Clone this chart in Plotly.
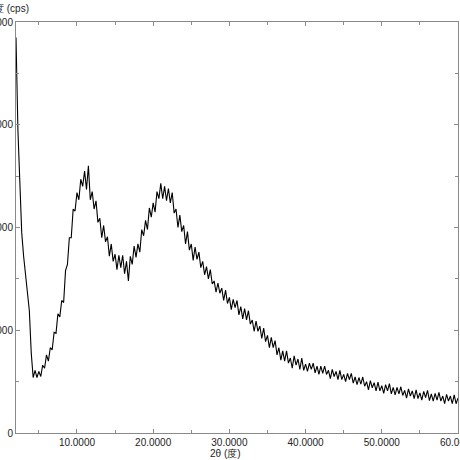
import plotly.graph_objects as go

# =====================================================
# DATA  (scan 2.00 - 60.00 deg, step 0.25 deg)
# =====================================================

SCAN_START = 2.0
SCAN_STEP = 0.25

intensity = [
    3850, 2950, 2450, 1950, 1720, 1540, 1370, 1190, 780, 540,
    610, 540, 600, 550, 660, 630, 760, 700, 830, 810,
    980, 970, 1160, 1130, 1290, 1270, 1580, 1640, 1900, 1900,
    2180, 2160, 2340, 2270, 2470, 2400, 2550, 2370, 2600, 2270,
    2350, 2180, 2260, 2050, 2090, 1900, 2020, 1860, 1910, 1720,
    1840, 1670, 1740, 1590, 1730, 1610, 1730, 1550, 1670, 1480,
    1720, 1640, 1820, 1710, 1840, 1760, 1980, 1920, 2070, 1980,
    2190, 2100, 2240, 2150, 2350, 2280, 2430, 2280, 2400, 2260,
    2380, 2240, 2340, 2140, 2180, 2000, 2120, 1960, 2020, 1840,
    1960, 1780, 1840, 1680, 1810, 1690, 1760, 1610, 1670, 1540,
    1620, 1500, 1590, 1450, 1480, 1370, 1460, 1360, 1410, 1290,
    1390, 1260, 1320, 1200, 1300, 1220, 1290, 1150, 1230, 1110,
    1210, 1100, 1190, 1060, 1100, 990, 1090, 990, 1040, 920,
    1020, 890, 950, 830, 930, 830, 900, 760, 830, 710,
    800, 700, 800, 680, 730, 630, 750, 660, 720, 620,
    730, 610, 670, 600, 680, 620, 680, 585, 650, 570,
    650, 580, 650, 570, 610, 530, 620, 550, 600, 520,
    610, 520, 570, 500, 580, 520, 580, 485, 545, 470,
    540, 475, 545, 455, 500, 420, 510, 440, 490, 410,
    495, 410, 460, 385, 470, 410, 480, 380, 445, 370,
    445, 380, 450, 365, 415, 340, 430, 360, 410, 335,
    420, 335, 390, 320, 405, 345, 415, 315, 380, 310,
    385, 320, 395, 310, 360, 285, 375, 310, 360, 285,
    370, 285, 340,
]

two_theta = [SCAN_START + SCAN_STEP * i for i in range(len(intensity))]

x_ticks = [10, 20, 30, 40, 50, 60]
y_ticks = [0, 1000, 2000, 3000, 4000]

AXIS_COLOR = "#8a8a8a"
TEXT_COLOR = "#222222"
FONT = "Liberation Sans, Arial, sans-serif"

# =====================================================
# FIGURE
# =====================================================

fig = go.Figure(
    go.Scatter(
        x=two_theta,
        y=intensity,
        mode="lines",
        line=dict(color="black", width=1.1),
        showlegend=False
    )
)

axis_common = dict(
    showline=True,
    linecolor=AXIS_COLOR,
    linewidth=1,
    mirror="allticks",
    ticks="inside",
    tickcolor=AXIS_COLOR,
    ticklen=4,
    showgrid=False,
    zeroline=False,
    automargin=False,
    ticklabeloverflow="allow",
    tickfont=dict(family=FONT, size=10, color=TEXT_COLOR),
)

fig.update_xaxes(
    range=[2, 60],
    tickvals=x_ticks,
    tickformat=".4f",
    minor=dict(ticks="inside", ticklen=3, tickcolor=AXIS_COLOR, dtick=5, tick0=5),
    **axis_common
)

fig.update_yaxes(
    range=[0, 4000],
    tickvals=y_ticks,
    minor=dict(ticks="inside", ticklen=3, tickcolor=AXIS_COLOR, dtick=500, tick0=0),
    **axis_common
)

fig.add_annotation(
    text="2θ (度)",
    xref="paper", yref="paper",
    x=0.475, y=-0.05,
    xanchor="center", yanchor="middle",
    showarrow=False,
    font=dict(family=FONT, size=10, color=TEXT_COLOR)
)

fig.add_annotation(
    text="强度 (cps)",
    xref="paper", yref="paper",
    x=0.034, y=1.034,
    xanchor="right", yanchor="middle",
    showarrow=False,
    font=dict(family=FONT, size=10, color=TEXT_COLOR)
)

fig.update_layout(
    width=460,
    height=460,
    margin=dict(l=16, r=2, t=22, b=27),
    paper_bgcolor="white",
    plot_bgcolor="white",
    font=dict(family=FONT)
)

fig.write_html(
    "out.html",
    config={"displayModeBar": False},
    post_script="document.body.style.margin = '0px';"
)
